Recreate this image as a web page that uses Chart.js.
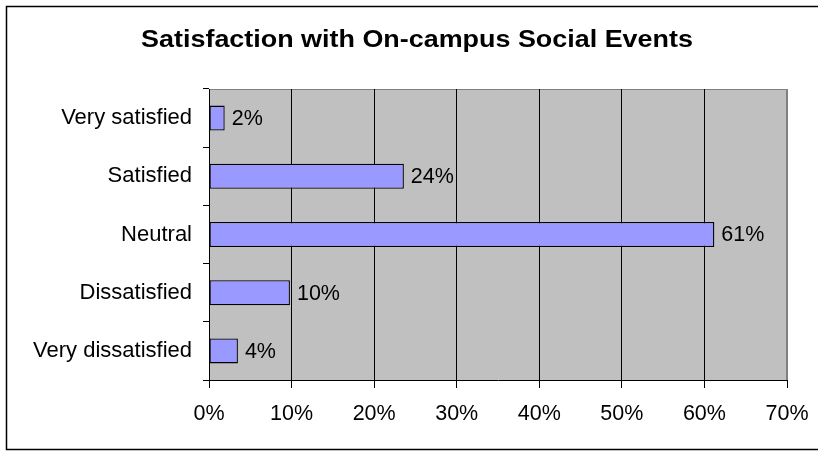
<!DOCTYPE html>
<html>
<head>
<meta charset="utf-8">
<script src="https://cdn.jsdelivr.net/npm/chart.js@4/dist/chart.umd.min.js"></script>
<style>
body{margin:0;background:#fff;}
</style>
</head>
<body>
<canvas id="myChart" width="818" height="451"></canvas>
<script>
var titulo = 'Satisfaction with On-campus Social Events';
var categorias = ['Very satisfied', 'Satisfied', 'Neutral', 'Dissatisfied', 'Very dissatisfied'];
var valores = [1.9, 23.6, 61.2, 9.8, 3.5];
var ticksX = [0, 10, 20, 30, 40, 50, 60, 70];

// marco, fondo gris y titulo
var fondo = {
    id: 'fondo',
    beforeDraw: function(chart){
        var ctx = chart.ctx;
        var a = chart.chartArea;
        ctx.save();
        ctx.fillStyle = '#fff';
        ctx.fillRect(0, 0, chart.width, chart.height);
        ctx.strokeStyle = '#000';
        ctx.lineWidth = 1.5;
        ctx.strokeRect(6.5, 6.5, 830, 443);
        ctx.fillStyle = '#C0C0C0';
        ctx.fillRect(a.left, a.top, a.right - a.left, a.bottom - a.top);
        ctx.strokeStyle = '#808080';
        ctx.lineWidth = 1;
        ctx.beginPath();
        ctx.moveTo(a.left, a.top + 0.5);
        ctx.lineTo(a.right - 0.5, a.top + 0.5);
        ctx.lineTo(a.right - 0.5, a.bottom);
        ctx.stroke();
        // titulo estirado a lo ancho como en el original
        ctx.fillStyle = '#000';
        ctx.font = 'bold 23px "Liberation Sans", Arial, sans-serif';
        ctx.textAlign = 'center';
        ctx.textBaseline = 'alphabetic';
        ctx.translate(417, 47);
        ctx.scale(1.17, 1);
        ctx.fillText(titulo, 0, 0);
        ctx.restore();
    }
};

// etiquetas de porcentaje
var etiquetas = {
    id: 'etiquetas',
    afterDatasetsDraw: function(chart){
        var ctx = chart.ctx;
        var meta = chart.getDatasetMeta(0);
        ctx.save();
        ctx.fillStyle = '#000';
        ctx.font = '21.5px "Liberation Sans", Arial, sans-serif';
        ctx.textAlign = 'left';
        ctx.textBaseline = 'middle';
        meta.data.forEach(function(bar, i){
            ctx.fillText(Math.round(valores[i]) + '%', bar.x + 7, bar.y + 1);
        });
        ctx.restore();
    }
};

function barra(){
    var ctx = document.getElementById('myChart').getContext('2d');
    var chart = new Chart(ctx, {
        type: 'bar',
        data: {
            labels: categorias,
            datasets: [{
                data: valores,
                backgroundColor: '#9999FF',
                borderColor: '#000',
                borderWidth: 1.3,
                borderSkipped: false,
                categoryPercentage: 1,
                barPercentage: 0.43
            }]
        },
        options: {
            indexAxis: 'y',
            responsive: false,
            animation: false,
            devicePixelRatio: 1,
            layout: {padding: {left: 0, top: 89, right: 31, bottom: 0}},
            plugins: {legend: {display: false}, title: {display: false}, tooltip: {enabled: false}},
            scales: {
                x: {
                    min: 0,
                    max: 70,
                    afterBuildTicks: function(s){ s.ticks = ticksX.map(function(v){ return {value: v}; }); },
                    afterFit: function(s){ s.height = 71; s.paddingLeft = 0; s.paddingRight = 0; },
                    ticks: {
                        color: '#000',
                        padding: 13,
                        maxRotation: 0,
                        font: {family: '"Liberation Sans", Arial, sans-serif', size: 21.5},
                        callback: function(v){ return v + '%'; }
                    },
                    grid: {
                        color: function(c){ return c.tick && c.tick.value === 70 ? '#808080' : '#000'; },
                        tickColor: '#000',
                        tickLength: 8,
                        lineWidth: 1
                    },
                    border: {color: '#000', width: 1}
                },
                y: {
                    afterFit: function(s){ s.width = 209; s.paddingTop = 0; s.paddingBottom = 0; },
                    ticks: {
                        color: '#000',
                        padding: 11,
                        font: {family: '"Liberation Sans", Arial, sans-serif', size: 22}
                    },
                    grid: {
                        drawOnChartArea: false,
                        tickColor: '#000',
                        tickLength: 6,
                        offset: true
                    },
                    border: {color: '#000', width: 1}
                }
            }
        },
        plugins: [fondo, etiquetas]
    });
}
barra();
</script>
</body>
</html>
